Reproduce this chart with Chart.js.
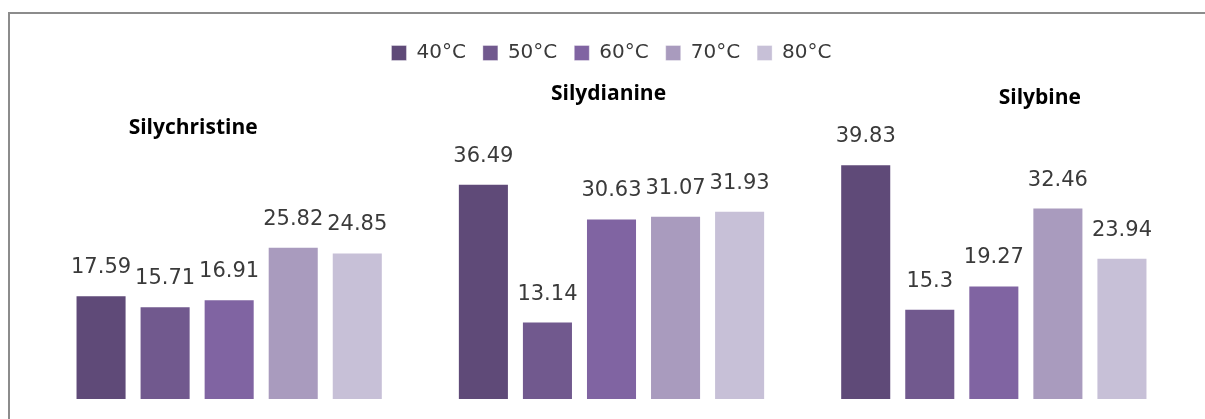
<!DOCTYPE html>
<html>
<head>
<meta charset="utf-8">
<script src="https://cdn.jsdelivr.net/npm/chart.js@4"></script>
<style>
  html, body { margin:0; padding:0; background:#fff; overflow:hidden; }
  #wrap { position:relative; width:1205px; height:419px; }
  #frame { position:absolute; left:8px; top:12px; width:1210px; height:420px; border-left:2px solid #8c8c8c; border-top:2px solid #8c8c8c; pointer-events:none; }
  canvas { position:absolute; left:0; top:0; }
</style>
</head>
<body>
<div id="wrap">
  <canvas id="c" width="1205" height="419"></canvas>
  <div id="frame"></div>
</div>
<script>
const categories = ['Silychristine', 'Silydianine', 'Silybine'];
const seriesNames = ['40°C', '50°C', '60°C', '70°C', '80°C'];
const s40 = [17.59, 36.49, 39.83];
const s50 = [15.71, 13.14, 15.3];
const s60 = [16.91, 30.63, 19.27];
const s70 = [25.82, 31.07, 32.46];
const s80 = [24.85, 31.93, 23.94];

const colors = ['#5f4a78', '#71598e', '#8064a2', '#a99bbe', '#c7c0d7'];
// category title placement (offset from category centre, absolute y)
const titleStyle = [{dx: -36, y: 128}, {dx: -3, y: 94}, {dx: 46, y: 98}];

const valueLabels = {
  id: 'valueLabels',
  afterDatasetsDraw(chart) {
    const ctx = chart.ctx;
    ctx.save();
    ctx.font = '21px "DejaVu Sans"';
    ctx.fillStyle = '#3a3a3a';
    ctx.textAlign = 'center';
    ctx.textBaseline = 'alphabetic';
    chart.data.datasets.forEach((ds, i) => {
      const meta = chart.getDatasetMeta(i);
      meta.data.forEach((bar, j) => {
        ctx.fillText(String(ds.data[j]), bar.x, bar.y - 22);
      });
    });
    ctx.restore();
  }
};

const categoryTitles = {
  id: 'categoryTitles',
  afterDatasetsDraw(chart) {
    const ctx = chart.ctx;
    const xs = chart.scales.x;
    ctx.save();
    ctx.font = 'bold 21px "Open Sans"';
    ctx.fillStyle = '#000';
    ctx.textAlign = 'center';
    ctx.textBaseline = 'middle';
    categories.forEach((c, i) => {
      ctx.fillText(c, xs.getPixelForValue(i) + titleStyle[i].dx, titleStyle[i].y);
    });
    ctx.restore();
  }
};

const allSeries = [s40, s50, s60, s70, s80];

new Chart(document.getElementById('c'), {
  type: 'bar',
  data: {
    labels: categories,
    datasets: allSeries.map((d, i) => ({
      label: seriesNames[i],
      data: d,
      backgroundColor: colors[i],
      borderColor: 'rgba(255,255,255,0.35)',
      borderWidth: 1,
      categoryPercentage: 0.8377,
      barPercentage: 0.797
    }))
  },
  options: {
    responsive: false,
    animation: false,
    devicePixelRatio: 1,
    layout: { padding: { left: 38, right: 20, top: 26, bottom: 20 } },
    scales: {
      x: { display: false },
      y: { display: false, min: 0, max: 55.29 }
    },
    plugins: {
      tooltip: { enabled: false },
      legend: {
        position: 'top',
        labels: {
          boxWidth: 15,
          boxHeight: 15,
          padding: 17,
          color: '#3a3a3a',
          font: { family: '"DejaVu Sans"', size: 20 }
        }
      }
    }
  },
  plugins: [valueLabels, categoryTitles]
});
</script>
</body>
</html>
